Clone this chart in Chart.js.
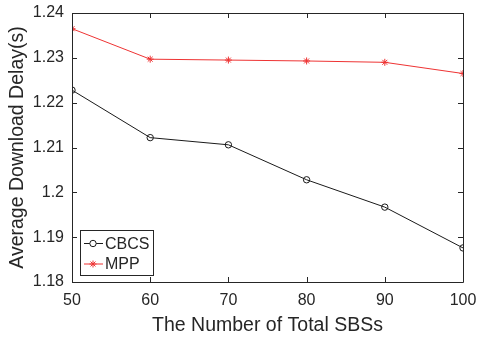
<!DOCTYPE html>
<html>
<head>
<meta charset="utf-8">
<script src="https://cdn.jsdelivr.net/npm/chart.js@4.4.0/dist/chart.umd.min.js"></script>
<style>
html,body{margin:0;padding:0;background:#fff;}
#wrap{width:478px;height:338px;position:relative;}
</style>
</head>
<body>
<div id="wrap"><canvas id="c" width="478" height="338"></canvas></div>
<script>
const xValues = [50, 60, 70, 80, 90, 100];
const cbcs = [1.2228, 1.2122, 1.2106, 1.2028, 1.1967, 1.1876];
const mpp = [1.2365, 1.2297, 1.2295, 1.2293, 1.2290, 1.2265];
const seriesNames = ['CBCS', 'MPP'];
const xTicks = [50, 60, 70, 80, 90, 100];
const yTicks = [1.18, 1.19, 1.2, 1.21, 1.22, 1.23, 1.24];

const TXT = '#262626';
const FONT = 'Liberation Sans, Arial, Helvetica, sans-serif';
const RED = '#ee3333';

const boxPlugin = {
  id: 'matlabBox',
  afterDraw(chart) {
    const ctx = chart.ctx, a = chart.chartArea;
    const xs = chart.scales.x, ys = chart.scales.y;
    ctx.save();
    ctx.strokeStyle = TXT;
    ctx.lineWidth = 1;
    ctx.beginPath();
    ctx.rect(Math.round(a.left)+0.5, Math.round(a.top)+0.5, Math.round(a.right-a.left), Math.round(a.bottom-a.top));
    ctx.stroke();
    const tl = 5;
    ctx.beginPath();
    xTicks.forEach(v => {
      const px = Math.round(xs.getPixelForValue(v)) + 0.5;
      ctx.moveTo(px, a.bottom); ctx.lineTo(px, a.bottom - tl);
      ctx.moveTo(px, a.top); ctx.lineTo(px, a.top + tl);
    });
    yTicks.forEach(v => {
      const py = Math.round(ys.getPixelForValue(v)) + 0.5;
      ctx.moveTo(a.left, py); ctx.lineTo(a.left + tl, py);
      ctx.moveTo(a.right, py); ctx.lineTo(a.right - tl, py);
    });
    ctx.stroke();

    // legend
    const lx = 80.5, ly = 230.5, lw = 73, lh = 45;
    ctx.fillStyle = '#fff';
    ctx.fillRect(lx, ly, lw, lh);
    ctx.strokeStyle = TXT;
    ctx.strokeRect(lx, ly, lw, lh);
    const rows = [243.5, 264];
    chart.data.datasets.forEach((ds, i) => {
      const y = rows[i];
      ctx.strokeStyle = ds.borderColor;
      ctx.lineWidth = 1;
      ctx.beginPath(); ctx.moveTo(84, y); ctx.lineTo(103, y); ctx.stroke();
      Chart.helpers.drawPoint(ctx, {pointStyle: ds.pointStyle, radius: ds.pointRadius, borderWidth: 1}, 93, y);
      ctx.fillStyle = TXT;
      ctx.font = '16px ' + FONT;
      ctx.textBaseline = 'middle';
      ctx.textAlign = 'left';
      ctx.fillText(ds.label, 105, y + 1);
    });
    ctx.restore();
  }
};

new Chart(document.getElementById('c'), {
  type: 'line',
  data: {
    datasets: [
      {
        label: seriesNames[0],
        data: xValues.map((x, i) => ({x, y: cbcs[i]})),
        borderColor: '#1a1a1a',
        backgroundColor: 'rgba(0,0,0,0)',
        borderWidth: 1,
        pointStyle: 'circle',
        pointRadius: 3.2,
        pointBorderWidth: 1,
        pointBackgroundColor: 'rgba(0,0,0,0)',
        tension: 0
      },
      {
        label: seriesNames[1],
        data: xValues.map((x, i) => ({x, y: mpp[i]})),
        borderColor: RED,
        backgroundColor: RED,
        borderWidth: 1,
        pointStyle: 'star',
        pointRadius: 3.5,
        pointBorderWidth: 1,
        tension: 0
      }
    ]
  },
  options: {
    responsive: false,
    animation: false,
    devicePixelRatio: 1,
    layout: {padding: {left: 0, right: 15, top: 13, bottom: 0}},
    plugins: {legend: {display: false}, tooltip: {enabled: false}},
    scales: {
      x: {
        type: 'linear', min: 50, max: 100,
        afterBuildTicks(s) { s.ticks = xTicks.map(v => ({value: v})); },
        afterFit(s) { s.height = 56; s.paddingLeft = 0; s.paddingRight = 0; },
        grid: {display: false, drawTicks: false},
        border: {display: false},
        ticks: {color: TXT, font: {size: 16, family: FONT}, padding: 9, maxRotation: 0,
          callback: v => String(v)},
        title: {display: true, text: 'The Number of Total SBSs', color: TXT,
          font: {size: 19.5, family: FONT}, padding: {top: 0, bottom: 1}}
      },
      y: {
        type: 'linear', min: 1.18, max: 1.24,
        afterBuildTicks(s) { s.ticks = yTicks.map(v => ({value: v})); },
        afterFit(s) { s.width = 72; s.paddingTop = 0; s.paddingBottom = 0; },
        grid: {display: false, drawTicks: false},
        border: {display: false},
        ticks: {color: TXT, font: {size: 16, family: FONT}, padding: 8,
          callback: v => String(Number(v.toFixed(2)))},
        title: {display: true, text: 'Average Download Delay(s)', color: TXT,
          font: {size: 19.5, family: FONT}, padding: {top: 6, bottom: 0}}
      }
    }
  },
  plugins: [boxPlugin]
});
</script>
</body>
</html>
